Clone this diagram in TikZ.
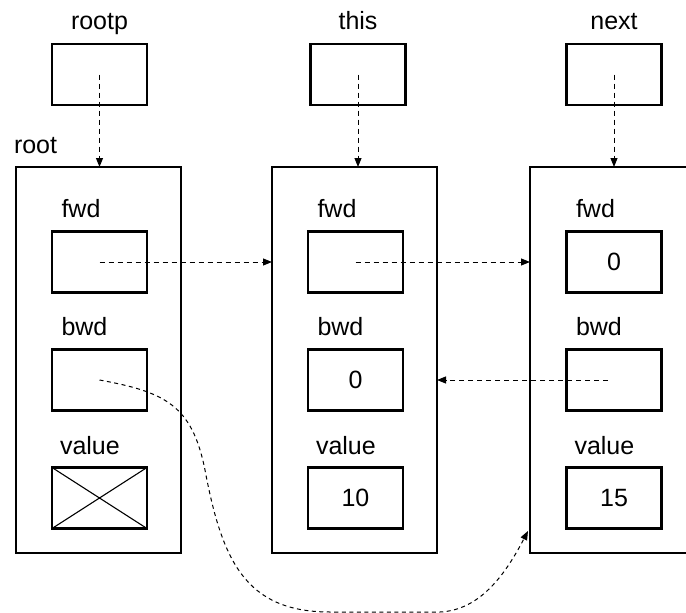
\documentclass[tikz,border=0pt]{standalone}
\usepackage{fontspec}
\setmainfont{Liberation Sans}
\usetikzlibrary{arrows.meta}
\begin{document}
\begin{tikzpicture}[x=1pt,y=-1pt,
  every node/.style={inner sep=0pt,outer sep=0pt},
  bigbox/.style={draw,line width=2.4pt,minimum width=165pt,minimum height=386pt},
  cell/.style={draw,line width=2.4pt,minimum width=95pt,minimum height=61pt,font=\fontsize{25}{25}\selectfont},
  lbl/.style={font=\fontsize{25}{25}\selectfont,anchor=base west},
  ptrlbl/.style={font=\fontsize{25}{25}\selectfont,anchor=base},
  ptr/.style={line width=1pt,dash pattern=on 5pt off 4pt,-{Triangle[length=9pt,width=7pt]}},
  curveptr/.style={line width=1pt,dash pattern=on 4pt off 3.5pt,-{Triangle[length=9pt,width=7pt]}}
]
\useasboundingbox (0,0) rectangle (686,613);
\clip (0,0) rectangle (686,613);

% pointer variables
\node[cell] (rootp) at (99.5,74.5) {};
\node[cell] (thisp) at (358,74.5) {};
\node[cell] (nextp) at (614,74.5) {};
\node[ptrlbl] (rootplbl) at ([yshift=14pt]rootp.north) {rootp};
\node[ptrlbl] (thisplbl) at ([yshift=14pt]thisp.north) {this};
\node[ptrlbl] (nextplbl) at ([yshift=15pt]nextp.north) {next};

% big records
\node[bigbox] (root) at (98.5,360) {};
\node[bigbox] (mid) at (354.5,360) {};
\node[bigbox] (nxt) at (612.5,360) {};
\node[lbl] (rootlbl) at (14,153) {root};

% root cells
\node[cell] (rootfwd) at (99.5,262) {};
\node[cell] (rootbwd) at (99.5,380) {};
\node[cell] (rootval) at (99.5,498) {};
\draw[line width=1.1pt] (rootval.north west) -- (rootval.south east)
                        (rootval.south west) -- (rootval.north east);
% middle cells
\node[cell] (midfwd) at (355.5,262) {};
\node[cell] (midbwd) at (355.5,380) {0};
\node[cell] (midval) at (355.5,498) {10};
% right cells
\node[cell] (nxtfwd) at (614,262) {0};
\node[cell] (nxtbwd) at (614,380) {};
\node[cell] (nxtval) at (614,498) {15};

% field labels
\foreach \c in {rootfwd,midfwd,nxtfwd}{
  \node[lbl] (\c lbl) at ([shift={(9.5pt,14pt)}]\c.north west) {fwd};}
\foreach \c in {rootbwd,midbwd,nxtbwd}{
  \node[lbl] (\c lbl) at ([shift={(9.5pt,14pt)}]\c.north west) {bwd};}
\foreach \c in {rootval,midval,nxtval}{
  \node[lbl] (\c lbl) at ([shift={(8pt,13pt)}]\c.north west) {value};}

% pointer arrows
\draw[ptr] (rootp.center) -- (rootp.center |- root.north);
\draw[ptr] (thisp.center) -- (thisp.center |- mid.north);
\draw[ptr] (nextp.center) -- (nextp.center |- nxt.north);
\draw[ptr] (rootfwd.center) -- (rootfwd.center -| mid.west);
\draw[ptr] (midfwd.center) -- (midfwd.center -| nxt.west);
\draw[ptr] ([xshift=-6pt]nxtbwd.center) -- (nxtbwd.center -| mid.east);
\coordinate (bwdend) at (528,531);
\draw[curveptr] (rootbwd.center) .. controls (165,392) and (192,405) .. (205,470)
   .. controls (222,560) and (245,612) .. (330,612)
   -- (440,612) .. controls (480,610) and (505,575) .. (bwdend);
\end{tikzpicture}
\end{document}
